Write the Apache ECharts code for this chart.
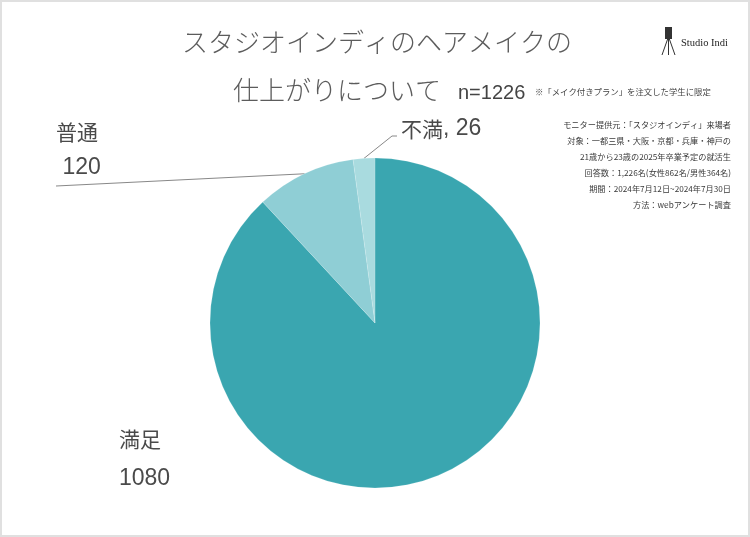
<!DOCTYPE html>
<html><head><meta charset="utf-8">
<script src="https://cdn.jsdelivr.net/npm/echarts@6/dist/echarts.min.js"></script>
<style>html,body{margin:0;padding:0;background:#fff}#c{width:750px;height:537px}</style>
</head><body><div id="c"></div>
<script>
const categories = ['満足', '普通', '不満'];
const values = [1080, 120, 26];
const colors = ['#3aa6b0', '#8fced5', '#a9dbdf'];
const titleLine1 = 'スタジオインディのヘアメイクの';
const titleLine2 = '仕上がりについて';
const sampleText = 'n=1226';
const noteText = '※「メイク付きプラン」を注文した学生に限定';
const infoLines = [
  'モニター提供元：「スタジオインディ」来場者',
  '対象：一都三県・大阪・京都・兵庫・神戸の',
  '21歳から23歳の2025年卒業予定の就活生',
  '回答数：1,226名(女性862名/男性364名)',
  '期間：2024年7月12日~2024年7月30日',
  '方法：webアンケート調査'
];
const brand = 'Studio Indi';

const chart = echarts.init(document.getElementById('c'));
const font = '"Noto Sans CJK JP", "Noto Sans", sans-serif';
const mixFont = '"Liberation Sans", "Noto Sans CJK JP", sans-serif';
const cfgByIndex = [
  {x: 119, y: 459, fmt: '{a|{b}}\n{v|{c}}', showLine: false, lh: 40},
  {x: 56, y: 150, fmt: '{a|{b}}\n{v| {c}}', line: [56, 186], showLine: true, lh: 36},
  {x: 401, y: 129, fmt: '{a|{b}}{v|, {c}}', line: [397, 136], mid: [392, 136], showLine: true, lh: 36}
];

chart.setOption({
  backgroundColor: '#ffffff',
  animation: false,
  title: [
    {text: titleLine1, left: 177, top: 24, textStyle: {fontFamily: font, fontSize: 26, fontWeight: 300, color: '#5c5c5c'}},
    {text: titleLine2, left: 228, top: 72, textStyle: {fontFamily: font, fontSize: 26, fontWeight: 300, color: '#5c5c5c'}},
    {text: sampleText, left: 453, top: 78, textStyle: {fontFamily: '"Liberation Sans", Arial, sans-serif', fontSize: 20, fontWeight: 'normal', color: '#444'}},
    {text: noteText, left: 530, top: 83, textStyle: {fontFamily: font, fontSize: 8.4, fontWeight: 'normal', color: '#444'}}
  ],
  graphic: [
    {type: 'rect', shape: {x: 1, y: 1, width: 748, height: 535}, style: {fill: 'none', stroke: '#e0e0e0', lineWidth: 2}, silent: true},
    {type: 'text', x: 731, y: 117, style: {text: infoLines.join('\n'), align: 'right', font: '8.2px ' + font, lineHeight: 16, fill: '#3a3a3a'}},
    {type: 'rect', shape: {x: 665, y: 27, width: 7, height: 12}, style: {fill: '#333'}},
    {type: 'line', shape: {x1: 668, y1: 38, x2: 662, y2: 55}, style: {stroke: '#333', lineWidth: 1}},
    {type: 'line', shape: {x1: 668.5, y1: 38, x2: 668.5, y2: 55}, style: {stroke: '#333', lineWidth: 1}},
    {type: 'line', shape: {x1: 669, y1: 38, x2: 675, y2: 55}, style: {stroke: '#333', lineWidth: 1}},
    {type: 'text', x: 681, y: 38, style: {text: brand, font: '10.5px "Liberation Serif", "DejaVu Serif", serif', fill: '#222'}}
  ],
  series: [{
    type: 'pie',
    center: [375, 323],
    radius: 165,
    startAngle: 90,
    clockwise: true,
    itemStyle: {borderColor: 'rgba(255,255,255,0.3)', borderWidth: 0.5},
    emphasis: {disabled: true},
    data: categories.map((n, i) => ({
      name: n, value: values[i],
      itemStyle: {color: colors[i]},
      label: {
        formatter: cfgByIndex[i].fmt,
        rich: {
          a: {fontFamily: font, fontSize: 21, color: '#4a4a4a', lineHeight: cfgByIndex[i].lh},
          v: {fontFamily: mixFont, fontSize: 23, color: '#4a4a4a', lineHeight: cfgByIndex[i].lh}
        }
      },
      labelLine: {show: cfgByIndex[i].showLine}
    })),
    label: {
      show: true,
      position: 'outside',
      color: '#4a4a4a'
    },
    labelLine: {show: true, lineStyle: {color: '#888', width: 1}, length: 10, length2: 10},
    labelLayout: function (params) {
      const c = cfgByIndex[params.dataIndex];
      const out = {x: c.x, y: c.y, align: 'left', verticalAlign: 'middle'};
      if (c.showLine && params.labelLinePoints) {
        const p0 = params.labelLinePoints[0];
        const mid = c.mid || c.line;
        out.labelLinePoints = [p0, mid, c.line];
      }
      return out;
    }
  }]
});
</script></body></html>
